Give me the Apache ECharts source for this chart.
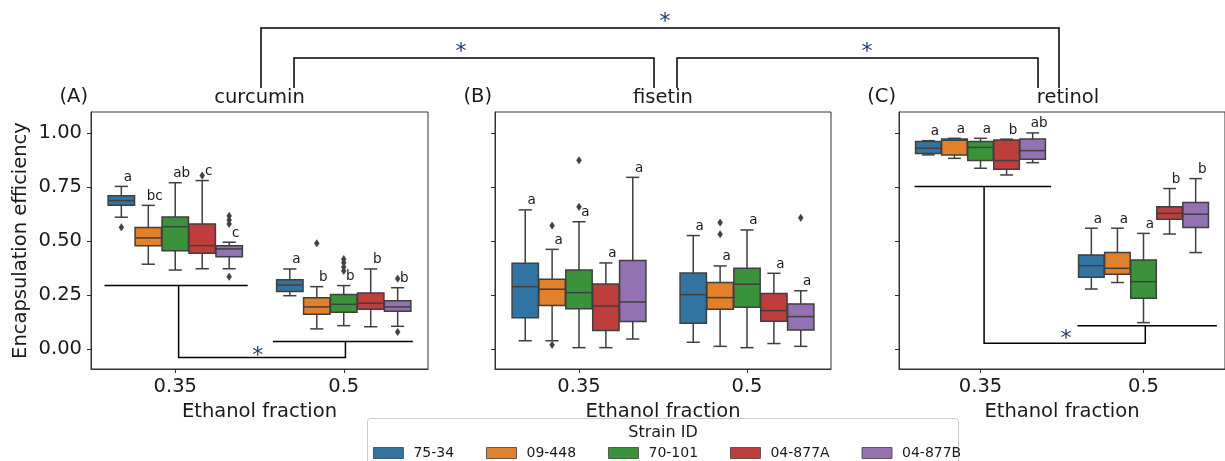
<!DOCTYPE html>
<html>
<head>
<meta charset="utf-8">
<script src="https://cdn.jsdelivr.net/npm/echarts@6/dist/echarts.min.js"></script>
<style>html,body{margin:0;padding:0;background:#fff}#c{width:1225px;height:461px}</style>
</head>
<body>
<div id="c"></div>
<script>
// ---------------- data ----------------
const categories = ['0.35', '0.5'];
const strains = ['75-34', '09-448', '70-101', '04-877A', '04-877B'];
const colors = ['#3274a1', '#e1812c', '#3a923a', '#c03d3e', '#9372b2'];
const panelNames = ['curcumin', 'fisetin', 'retinol'];
const panelTags = ['(A)', '(B)', '(C)'];
const yTicks = [0, 0.25, 0.5, 0.75, 1.0];

// box stats per strain: [lower whisker, Q1, median, Q3, upper whisker]
const curcumin035 = [
  [0.611, 0.666, 0.688, 0.711, 0.754],
  [0.393, 0.479, 0.515, 0.563, 0.666],
  [0.366, 0.456, 0.567, 0.612, 0.771],
  [0.372, 0.444, 0.479, 0.580, 0.781],
  [0.372, 0.428, 0.464, 0.479, 0.495]
];
const curcumin05 = [
  [0.247, 0.266, 0.297, 0.321, 0.371],
  [0.093, 0.161, 0.195, 0.238, 0.289],
  [0.108, 0.170, 0.207, 0.252, 0.294],
  [0.103, 0.184, 0.212, 0.260, 0.371],
  [0.105, 0.175, 0.195, 0.223, 0.284]
];
const fisetin035 = [
  [0.038, 0.145, 0.289, 0.397, 0.645],
  [0.038, 0.201, 0.277, 0.323, 0.462],
  [0.006, 0.186, 0.261, 0.366, 0.590],
  [0.006, 0.085, 0.199, 0.301, 0.399],
  [0.046, 0.127, 0.218, 0.410, 0.796]
];
const fisetin05 = [
  [0.031, 0.119, 0.252, 0.352, 0.526],
  [0.012, 0.184, 0.238, 0.308, 0.385],
  [0.006, 0.193, 0.300, 0.374, 0.552],
  [0.025, 0.128, 0.178, 0.257, 0.351],
  [0.012, 0.088, 0.150, 0.209, 0.270]
];
const retinol035 = [
  [0.900, 0.906, 0.931, 0.962, 0.966],
  [0.884, 0.900, 0.968, 0.974, 0.977],
  [0.838, 0.874, 0.935, 0.962, 0.977],
  [0.807, 0.833, 0.874, 0.969, 0.973],
  [0.864, 0.880, 0.920, 0.974, 1.002]
];
const retinol05 = [
  [0.278, 0.333, 0.386, 0.436, 0.560],
  [0.308, 0.346, 0.374, 0.447, 0.560],
  [0.122, 0.235, 0.312, 0.413, 0.536],
  [0.533, 0.601, 0.629, 0.660, 0.744],
  [0.447, 0.563, 0.625, 0.679, 0.790]
];

// outliers: [category index, strain index, value]
const curcuminOutliers = [
  [0, 0, 0.564], [0, 3, 0.804], [0, 4, 0.617], [0, 4, 0.598], [0, 4, 0.580], [0, 4, 0.335],
  [1, 1, 0.490], [1, 2, 0.417], [1, 2, 0.400], [1, 2, 0.380], [1, 2, 0.362],
  [1, 4, 0.326], [1, 4, 0.079]
];
const fisetinOutliers = [
  [0, 1, 0.572], [0, 1, 0.019], [0, 2, 0.875], [0, 2, 0.659],
  [1, 1, 0.586], [1, 1, 0.532], [1, 4, 0.608]
];
const retinolOutliers = [];

// significance letters per category
const curcuminLetters035 = ['a', 'bc', 'ab', 'c', 'c'];
const curcuminLetters05 = ['a', 'b', 'b', 'b', 'b'];
const fisetinLetters035 = ['a', 'a', 'a', 'a', 'a'];
const fisetinLetters05 = ['a', 'a', 'a', 'a', 'a'];
const retinolLetters035 = ['a', 'a', 'a', 'b', 'ab'];
const retinolLetters05 = ['a', 'a', 'a', 'b', 'b'];

// in-panel brackets: polylines of [category position, value]
const curcuminBrackets = [
  [[-0.42, 0.294], [0.43, 0.294]],
  [[0.02, 0.294], [0.02, -0.04], [1.01, -0.04], [1.01, 0.034]],
  [[0.58, 0.034], [1.41, 0.034]]
];
const curcuminStar = [0.49, -0.013];
const fisetinBrackets = [];
const fisetinStar = null;
const retinolBrackets = [
  [[-0.405, 0.753], [0.433, 0.753]],
  [[0.022, 0.753], [0.022, 0.026], [1.011, 0.026], [1.011, 0.108]],
  [[0.595, 0.108], [1.45, 0.108]]
];
const retinolStar = [0.525, 0.07];

// ---------------- layout / style ----------------
const FONT = 'DejaVu Sans';
const EDGE = '#3f3f3f';
const FRAME = '#333';
const TEXT = '#1a1a1a';
const STAR = '#1f3a68';
const GRID_TOP = 112, GRID_H = 257;
const gridLefts = [91, 495, 899];
const gridWidths = [337, 336, 338];

const panels = [
  { boxes: [curcumin035, curcumin05], outliers: curcuminOutliers, letters: [curcuminLetters035, curcuminLetters05], brackets: curcuminBrackets, star: curcuminStar },
  { boxes: [fisetin035, fisetin05], outliers: fisetinOutliers, letters: [fisetinLetters035, fisetinLetters05], brackets: fisetinBrackets, star: fisetinStar },
  { boxes: [retinol035, retinol05], outliers: retinolOutliers, letters: [retinolLetters035, retinolLetters05], brackets: retinolBrackets, star: retinolStar }
];

function hueCenter(api, cat, hue) {
  const bw = api.size([1, 0])[0];
  const step = bw * 0.8 / strains.length;
  return { cx: api.coord([cat, 0])[0] + (hue - (strains.length - 1) / 2) * step, w: step * 0.98 };
}

function boxRenderer(hue) {
  return function (params, api) {
    const cat = api.value(0);
    const { cx, w } = hueCenter(api, cat, hue);
    const y = i => api.coord([cat, api.value(i)])[1];
    const lo = y(1), q1 = y(2), md = y(3), q3 = y(4), hi = y(5);
    const ls = { stroke: EDGE, lineWidth: 1.5 };
    return {
      type: 'group',
      children: [
        { type: 'line', shape: { x1: cx, y1: q1, x2: cx, y2: lo }, style: ls },
        { type: 'line', shape: { x1: cx, y1: q3, x2: cx, y2: hi }, style: ls },
        { type: 'line', shape: { x1: cx - w / 4, y1: lo, x2: cx + w / 4, y2: lo }, style: ls },
        { type: 'line', shape: { x1: cx - w / 4, y1: hi, x2: cx + w / 4, y2: hi }, style: ls },
        { type: 'rect', shape: { x: cx - w / 2, y: q3, width: w, height: q1 - q3 },
          style: { fill: api.visual('color'), stroke: EDGE, lineWidth: 1.5 } },
        { type: 'line', shape: { x1: cx - w / 2, y1: md, x2: cx + w / 2, y2: md }, style: ls }
      ]
    };
  };
}

function outlierRenderer(params, api) {
  const cat = api.value(0), hue = api.value(1);
  const { cx } = hueCenter(api, cat, hue);
  const cy = api.coord([cat, api.value(2)])[1];
  return {
    type: 'polygon',
    shape: { points: [[cx, cy - 3.6], [cx + 2.4, cy], [cx, cy + 3.6], [cx - 2.4, cy]] },
    style: { fill: EDGE, stroke: EDGE, lineWidth: 0.6 }
  };
}

function letterRenderer(letterList) {
  return function (params, api) {
    const cat = api.value(0), hue = api.value(1);
    const { cx } = hueCenter(api, cat, hue);
    const cy = api.coord([cat, api.value(2)])[1];
    return {
      type: 'text', x: cx + 6.5, y: cy - 9,
      style: { text: letterList[params.dataIndex], fontSize: 13.5, fontFamily: FONT, fill: TEXT, align: 'center', verticalAlign: 'middle' }
    };
  };
}

function bracketRenderer(brackets, star) {
  return function (params, api) {
    const bw = api.size([1, 0])[0];
    const pt = p => { const c = api.coord([0, p[1]]); return [c[0] + p[0] * bw, c[1]]; };
    const children = brackets.map(b => ({
      type: 'polyline', shape: { points: b.map(pt) },
      style: { stroke: '#000', lineWidth: 1.5, fill: null }
    }));
    if (star) {
      const s = pt(star);
      children.push({ type: 'text', x: s[0], y: s[1] + 5, style: { text: '*', fontSize: 22, fontFamily: FONT, fill: STAR, align: 'center', verticalAlign: 'middle' } });
    }
    return { type: 'group', children };
  };
}

// ---------------- option ----------------
const grids = [], xAxes = [], yAxes = [], series = [], graphics = [];

panels.forEach((pan, p) => {
  grids.push({ left: gridLefts[p], top: GRID_TOP, width: gridWidths[p], height: GRID_H,
    show: true, borderColor: FRAME, borderWidth: 1, backgroundColor: 'transparent', containLabel: false });
  xAxes.push({
    type: 'category', gridIndex: p, data: categories, boundaryGap: true,
    axisLine: { show: true, onZero: false, lineStyle: { color: FRAME, width: 1 } },
    axisTick: { show: true, alignWithLabel: true, length: 4, lineStyle: { color: FRAME } },
    axisLabel: { fontSize: 19.5, fontFamily: FONT, color: TEXT, margin: 8 },
    splitLine: { show: false },
    name: 'Ethanol fraction', nameLocation: 'middle', nameGap: 29,
    nameTextStyle: { fontSize: 19.5, fontFamily: FONT, color: TEXT }
  });
  yAxes.push({
    type: 'value', gridIndex: p, min: -0.093, max: 1.099,
    splitLine: { show: false },
    axisLine: { show: true, onZero: false, lineStyle: { color: FRAME, width: 1 } },
    axisTick: { show: true, length: 4, lineStyle: { color: FRAME }, customValues: yTicks },
    axisLabel: { show: p === 0, customValues: yTicks, formatter: v => Number(v).toFixed(2),
      fontSize: 19.5, fontFamily: FONT, color: TEXT, margin: 9 },
    name: p === 0 ? 'Encapsulation efficiency' : '', nameLocation: 'middle', nameGap: 60,
    nameTextStyle: { fontSize: 19.5, fontFamily: FONT, color: TEXT }
  });

  strains.forEach((s, h) => {
    series.push({
      type: 'custom', name: s, xAxisIndex: p, yAxisIndex: p,
      itemStyle: { color: colors[h] },
      renderItem: boxRenderer(h),
      encode: { x: 0, y: [1, 2, 3, 4, 5] },
      data: pan.boxes.map((catBoxes, c) => [c].concat(catBoxes[h])),
      silent: true, z: 2
    });
  });

  series.push({
    type: 'custom', xAxisIndex: p, yAxisIndex: p, renderItem: outlierRenderer,
    encode: { x: 0, y: 2 }, data: pan.outliers, silent: true, z: 3
  });

  const letterData = [], letterList = [];
  pan.boxes.forEach((catBoxes, c) => {
    catBoxes.forEach((b, h) => { letterData.push([c, h, b[4]]); letterList.push(pan.letters[c][h]); });
  });
  series.push({
    type: 'custom', xAxisIndex: p, yAxisIndex: p, renderItem: letterRenderer(letterList),
    encode: { x: 0, y: 2 }, data: letterData, silent: true, z: 4
  });

  if (pan.brackets.length) {
    series.push({
      type: 'custom', xAxisIndex: p, yAxisIndex: p, renderItem: bracketRenderer(pan.brackets, pan.star),
      data: [[0, 0]], encode: { x: 0, y: 1 }, silent: true, z: 5
    });
  }

  const cx = gridLefts[p] + gridWidths[p] / 2;
  graphics.push({ type: 'text', x: cx, y: 98, style: { text: panelNames[p], fontSize: 19.5, fontFamily: FONT, fill: TEXT, align: 'center', verticalAlign: 'middle' } });
  graphics.push({ type: 'text', x: gridLefts[p] - 3, y: 97, style: { text: panelTags[p], fontSize: 19.5, fontFamily: FONT, fill: TEXT, align: 'right', verticalAlign: 'middle' } });
});

// cross-panel brackets (annotation, pixel space)
const topBrackets = [
  [[261, 88], [261, 28], [1059, 28], [1059, 88]],
  [[294, 88], [294, 58], [654, 58], [654, 88]],
  [[677, 88], [677, 58], [1038, 58], [1038, 88]]
];
const topStars = [[665, 17], [461, 47], [867, 47]];
topBrackets.forEach(pts => graphics.push({ type: 'polyline', shape: { points: pts }, style: { stroke: '#000', lineWidth: 1.5, fill: null } }));
topStars.forEach(s => graphics.push({ type: 'text', x: s[0], y: s[1] + 5, style: { text: '*', fontSize: 22, fontFamily: FONT, fill: STAR, align: 'center', verticalAlign: 'middle' } }));

// legend frame and title
graphics.push({ type: 'rect', shape: { x: 367.5, y: 418.5, width: 591, height: 60, r: 3 }, style: { fill: 'rgba(255,255,255,0.8)', stroke: '#cccccc', lineWidth: 1 }, z: 10 });
graphics.push({ type: 'text', x: 663, y: 433, style: { text: 'Strain ID', fontSize: 16, fontFamily: FONT, fill: TEXT, align: 'center', verticalAlign: 'middle' }, z: 11 });

const chart = echarts.init(document.getElementById('c'), null, { renderer: 'canvas' });
chart.setOption({
  animation: false,
  backgroundColor: '#fff',
  textStyle: { fontFamily: FONT },
  grid: grids,
  xAxis: xAxes,
  yAxis: yAxes,
  series: series,
  graphic: graphics,
  legend: {
    data: strains, left: 373, top: 446, padding: 0, orient: 'horizontal',
    icon: 'rect', itemWidth: 30, itemHeight: 11, itemGap: 32,
    itemStyle: { borderColor: EDGE, borderWidth: 0.8 },
    textStyle: { fontSize: 14, fontFamily: FONT, color: TEXT, padding: [0, 0, 0, 5] },
    selectedMode: false, z: 20
  }
});
</script>
</body>
</html>
